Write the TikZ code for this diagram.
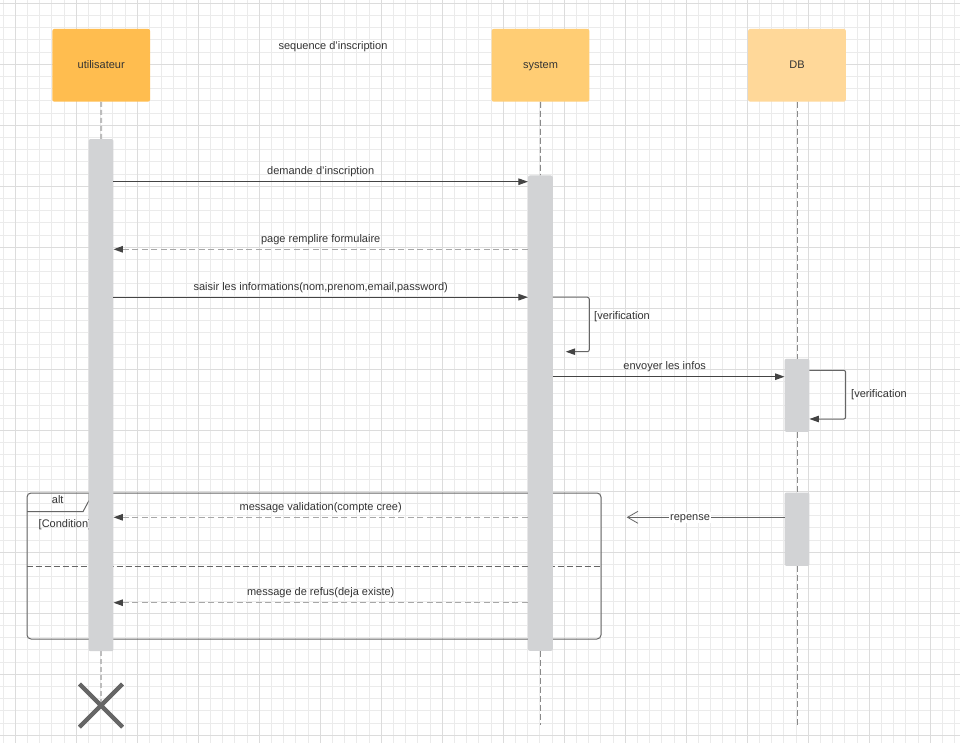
\documentclass[tikz,border=0pt]{standalone}
\usepackage{fontspec}
\setmainfont{Liberation Sans}
\usetikzlibrary{arrows.meta,shapes.misc}

\definecolor{gridminor}{HTML}{EBEBEB}
\definecolor{gridmajor}{HTML}{DCDCDC}
\definecolor{userfill}{HTML}{FFBD4F}
\definecolor{sysfill}{HTML}{FFCD74}
\definecolor{dbfill}{HTML}{FFD899}
\definecolor{actfill}{HTML}{D2D3D5}
\definecolor{txt}{HTML}{333333}
\definecolor{linedark}{HTML}{444444}
\definecolor{linemid}{HTML}{666666}
\definecolor{retgray}{HTML}{A8A8A8}
\definecolor{lifegray}{HTML}{8A8A8A}
\definecolor{lifelight}{HTML}{BDBDBD}

\tikzset{
  minorgrid/.style={draw=gridminor, line width=1pt},
  majorgrid/.style={draw=gridmajor, line width=1pt},
  actor/.style={rectangle, rounded corners=2pt, minimum width=97.7pt, minimum height=72.7pt, inner sep=0pt},
  actbar/.style={rectangle, rounded corners=2pt, fill=actfill, inner sep=0pt, minimum width=24.5pt},
  lifeline/.style={draw=lifegray, line width=1pt, dash pattern=on 6pt off 3pt},
  userline/.style={draw=lifelight, line width=2pt, dash pattern=on 5pt off 3pt},
  msg/.style={draw=linedark, line width=1pt, -{Triangle[length=9.5pt,width=6.5pt]}},
  retmsg/.style={draw=retgray, line width=1.3pt, dash pattern=on 6pt off 3.5pt,
    -{Triangle[length=9.5pt,width=6.5pt,fill=linedark,color=linedark]}},
  selfmsg/.style={draw=linemid, line width=1pt, rounded corners=2pt,
    -{Triangle[length=9.5pt,width=6.5pt,fill=linedark,color=linedark]}},
  openmsg/.style={draw=linemid, line width=1pt,
    -{Straight Barb[length=10.5pt,width=12pt,line width=0.8pt]}},
  frame/.style={draw=linemid, line width=1pt},
  divider/.style={draw=linemid, line width=1pt, dash pattern=on 6pt off 3pt},
  lbl/.style={font=\fontsize{11}{13}\selectfont, text=txt, inner sep=1pt,
    text height=8pt, text depth=2.5pt},
}

\begin{document}
\begin{tikzpicture}[x=1pt, y=-1pt]
\useasboundingbox (0,0) rectangle (960,743);
\fill[white] (0,0) rectangle (960,743);

% background grid: fine lines every 12.2, heavier lines every 61
\foreach \i in {-1,...,77} {\draw[minorgrid] ({15.3+12.2*\i},0) -- ({15.3+12.2*\i},743);}
\foreach \j in {0,...,60} {\draw[minorgrid] (0,{3.3+12.2*\j}) -- (960,{3.3+12.2*\j});}
\foreach \i in {0,...,15} {\draw[majorgrid] ({15.3+61*\i},0) -- ({15.3+61*\i},743);}
\foreach \j in {0,...,12} {\draw[majorgrid] (0,{3.3+61*\j}) -- (960,{3.3+61*\j});}

% participants
\node[actor, fill=userfill] (u) at (101.2,65.3) {};
\node[actor, fill=sysfill]  (s) at (540.5,65.3) {};
\node[actor, fill=dbfill]   (d) at (797,65.3) {};
\node[lbl] at ([yshift=-0.5pt]u.center) {utilisateur};
\node[lbl] at ([yshift=-0.5pt]s.center) {system};
\node[lbl] at ([yshift=-0.5pt]d.center) {DB};
\node[lbl] (title) at (333,46.5) {sequence d'inscription};

% alt fragment
\node[frame, rectangle, rounded corners=4pt, minimum width=574pt, minimum height=146pt, inner sep=0pt] (alt) at (314,566) {};
\coordinate (tabA) at (27,511.7);
\coordinate (tabB) at (83,511.7);
\coordinate (tabC) at (89,500.5);
\coordinate (tabD) at (89,493);
\draw[frame] (tabA) -- (tabB) -- (tabC) -- (tabD);
\node[lbl] (altname) at (57.7,501) {alt};
\node[lbl, anchor=west] (cond) at (37.5,524.8) {[Condition]};
\draw[divider] (alt.west) -- (alt.east);

% activation geometry
\coordinate (ua-c) at (101,395.15);
\coordinate (sa-c) at (540.4,413.2);

% lifelines
\node[actbar, minimum height=511.7pt, fill=none] (ua) at (ua-c) {};
\node[actbar, minimum height=475pt, fill=none] (sa) at (sa-c) {};
\node[actbar, minimum height=72.7pt, fill=none] (da1) at (797,395.35) {};
\node[actbar, minimum height=73pt, fill=none] (da2) at (797,529.2) {};
\node[cross out, draw=linemid, line width=4pt, minimum size=39pt, inner sep=0pt] (xend) at (101,705.5) {};
\coordinate (send) at (540.4,725);
\coordinate (dend) at (797,725);

\draw[userline] (u.south) -- (ua.north);
\draw[userline] (ua.south) -- (xend.center);
\draw[lifeline] (s.south) -- (sa.north);
\draw[lifeline] (sa.south) -- (send);
\draw[lifeline] (d.south) -- (da1.north);
\draw[lifeline] (da1.south) -- (da2.north);
\draw[lifeline] (da2.south) -- (dend);
\node[cross out, draw=linemid, line width=4pt, minimum size=39pt, inner sep=0pt] at (xend) {};

% activation bars
\fill[actfill, rounded corners=2pt] (ua.south west) rectangle (ua.north east);
\fill[actfill, rounded corners=2pt] (sa.south west) rectangle (sa.north east);
\fill[actfill, rounded corners=2pt] (da1.south west) rectangle (da1.north east);
\fill[actfill, rounded corners=2pt] (da2.south west) rectangle (da2.north east);

% message rows
\coordinate (y1) at (0,181.7);
\coordinate (y2) at (0,249.3);
\coordinate (y3) at (0,297.2);
\coordinate (y4) at (0,376.7);
\coordinate (y5) at (0,517.3);
\coordinate (y6) at (0,602.7);

\draw[msg] (ua.east |- y1) -- (sa.west |- y1)
  node[lbl, midway, yshift=10pt] {demande d'inscription};
\draw[retmsg] (sa.west |- y2) -- (ua.east |- y2)
  node[lbl, midway, yshift=9.5pt] {page remplire formulaire};
\draw[msg] (ua.east |- y3) -- (sa.west |- y3)
  node[lbl, midway, yshift=9.5pt] {saisir les informations(nom,prenom,email,password)};

% self check on system
\coordinate (sv1) at (589.3,297.2);
\coordinate (sv2) at (589.3,351.7);
\coordinate (sv3) at (565.7,351.7);
\draw[selfmsg] (sa.east |- y3) -- (sv1) -- (sv2) -- (sv3);
\node[lbl, anchor=west] (sverif) at (593,317.2) {[verification};

\draw[msg] (sa.east |- y4) -- (da1.west |- y4)
  node[lbl, midway, yshift=10pt, xshift=-4pt] {envoyer les infos};

% self check on DB
\coordinate (dv0) at (809,370.3);
\coordinate (dv1) at (845.7,370.3);
\coordinate (dv2) at (845.7,419);
\coordinate (dv3) at (809,419);
\draw[selfmsg] (da1.east |- dv0) -- (dv1) -- (dv2) -- (da1.east |- dv3);
\node[lbl, anchor=west] (dverif) at (850,394.5) {[verification};

% DB answer
\coordinate (rep) at (626.7,517.3);
\draw[openmsg] (da2.west |- y5) -- (rep);
\node[lbl, fill=white, inner xsep=1pt, inner ysep=0pt] (replbl) at (690,517.3) {repense};

% alternatives
\draw[retmsg] (sa.west |- y5) -- (ua.east |- y5)
  node[lbl, midway, yshift=9.5pt] {message validation(compte cree)};
\draw[retmsg] (sa.west |- y6) -- (ua.east |- y6)
  node[lbl, midway, yshift=9.5pt] {message de refus(deja existe)};
\end{tikzpicture}
\end{document}
